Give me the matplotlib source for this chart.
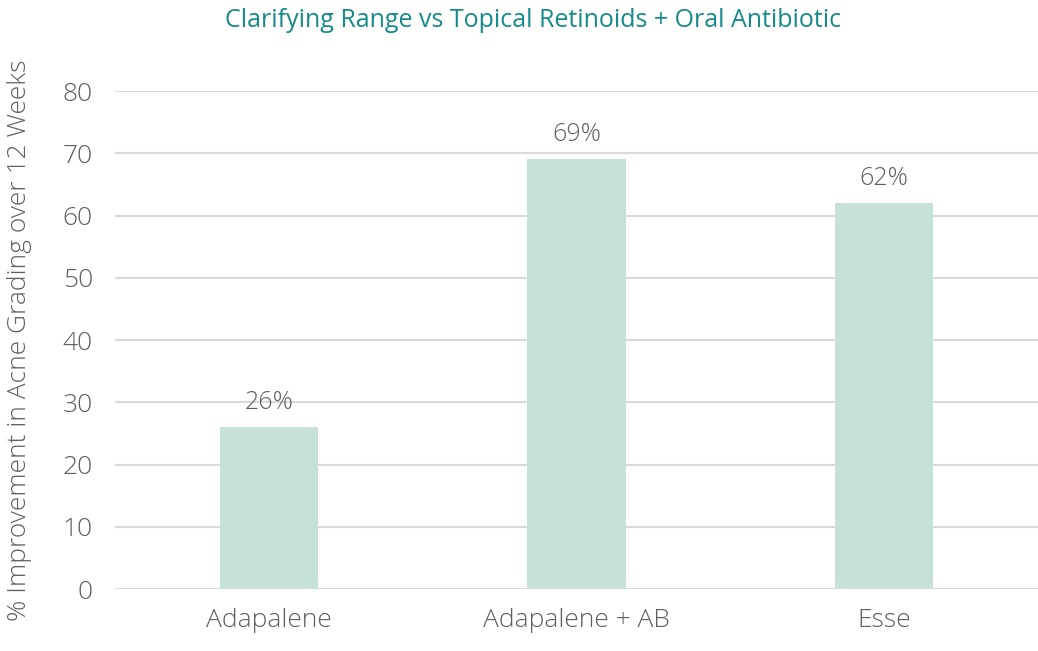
import matplotlib.pyplot as plt

categories = ['Adapalene', 'Adapalene + AB', 'Esse']
improvement = [26, 69, 62]
bar_labels = ['26%', '69%', '62%']

plt.rcParams['font.family'] = ['Open Sans', 'DejaVu Sans']

fig = plt.figure(figsize=(10.38, 6.51), dpi=100)
ax = fig.add_axes([0.111, 0.0952, 0.889, 0.765])

txt_color = '#5f5f5f'
bars = ax.bar(categories, improvement, width=0.32, color='#c6e1d7', zorder=3)
for b, lab in zip(bars, bar_labels):
    ax.annotate(lab, (b.get_x() + b.get_width() / 2, b.get_height()),
                xytext=(0, 9), textcoords='offset points', ha='center', va='bottom',
                fontsize=18, color=txt_color, fontweight='light')

ax.set_ylim(0, 80)
ax.set_xlim(-0.5, 2.5)
ax.set_yticks(range(0, 81, 10))
ax.yaxis.grid(True, color='#d9d9d9', linewidth=1.5, zorder=0)
for s in ax.spines.values():
    s.set_visible(False)
ax.tick_params(axis='x', length=0, labelsize=19, labelcolor=txt_color, pad=14)
ax.tick_params(axis='y', length=0, labelsize=19, labelcolor=txt_color, pad=16)
for t in ax.get_xticklabels() + ax.get_yticklabels():
    t.set_fontweight('light')

ax.set_ylabel('% Improvement in Acne Grading over 12 Weeks', fontsize=19,
              color=txt_color, fontweight='light')
ax.yaxis.set_label_coords(-0.09, 0.5)

fig.text(0.514, 0.968, 'Clarifying Range vs Topical Retinoids + Oral Antibiotic',
         ha='center', va='center', fontsize=18, color='#17898a')

fig.savefig('out.png', dpi=100)
